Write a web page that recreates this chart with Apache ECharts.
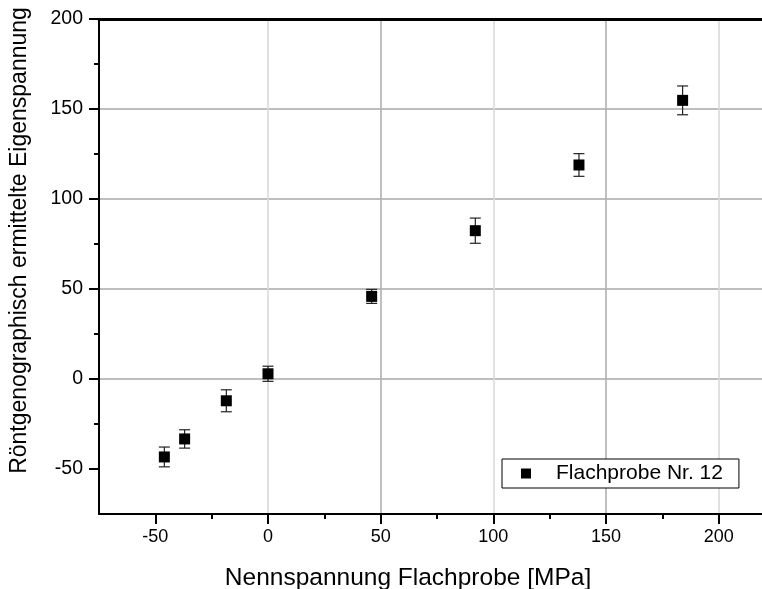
<!DOCTYPE html>
<html>
<head>
<meta charset="utf-8">
<script src="https://cdn.jsdelivr.net/npm/echarts@6/dist/echarts.min.js"></script>
<style>html,body{margin:0;padding:0;background:#fff;}#c{width:762px;height:589px;}</style>
</head>
<body>
<div id="c"></div>
<script>
// Data
var xValues = [-46, -37, -18.5, 0, 46, 92, 138, 184];
var yValues = [-43.3, -33.3, -12.1, 2.9, 45.9, 82.4, 118.9, 154.8];
var yErrors = [5.5, 5.1, 6.1, 4.2, 3.9, 7.0, 6.3, 8.0];
var seriesName = 'Flachprobe Nr. 12';
var xTitle = 'Nennspannung Flachprobe [MPa]';
var yTitle = 'Röntgenographisch ermittelte Eigenspannung';
var xMajorTicks = [-50, 0, 50, 100, 150, 200];
var xMinorTicks = [-25, 25, 75, 125, 175];
var yMajorTicks = [-50, 0, 50, 100, 150, 200];
var yMinorTicks = [-25, 25, 75, 125, 175];

var font = '"Liberation Sans", Arial, sans-serif';
var points = xValues.map(function (x, i) { return [x, yValues[i]]; });
var errData = xValues.map(function (x, i) { return [x, yValues[i] - yErrors[i], yValues[i] + yErrors[i]]; });

function gridBox() {
  return { left: 99, top: 19, width: 676, height: 495, containLabel: false, outerBoundsMode: 'none' };
}

var chart = echarts.init(document.getElementById('c'));
chart.setOption({
  animation: false,
  backgroundColor: '#fff',
  textStyle: { fontFamily: font },
  grid: [gridBox(), gridBox()],
  legend: {
    left: 502, top: 459,
    orient: 'vertical',
    padding: [4, 16, 4, 5],
    backgroundColor: '#fff',
    borderColor: '#000',
    borderWidth: 1,
    borderRadius: 0,
    itemWidth: 44, itemHeight: 10,
    icon: 'path://M0,0M44,10M14,0H24V10H14Z',
    data: [seriesName],
    textStyle: { fontFamily: font, fontSize: 21, lineHeight: 20, color: '#000' }
  },
  xAxis: [
    {
      type: 'value', gridIndex: 0, position: 'bottom',
      min: -75, max: 225, interval: 25,
      name: xTitle, nameLocation: 'middle', nameGap: 52,
      nameTextStyle: { fontFamily: font, fontSize: 24.5, color: '#000', padding: [0, 58, 0, 0] },
      axisLine: { show: true, onZero: false, lineStyle: { color: '#000', width: 2 } },
      axisTick: { show: true, customValues: xMajorTicks, length: 10, lineStyle: { color: '#000', width: 2 } },
      axisLabel: { customValues: xMajorTicks, fontFamily: font, fontSize: 18, color: '#000', margin: 14 },
      splitLine: { show: true, showMinLine: false, lineStyle: { color: ['#dadada', '#b0b0b0'], width: 1.6 } }
    },
    {
      type: 'value', gridIndex: 0, position: 'top',
      min: -75, max: 225, interval: 25,
      axisLine: { show: true, onZero: false, lineStyle: { color: '#000', width: 3 } },
      axisTick: { show: false }, axisLabel: { show: false }, splitLine: { show: false }
    },
    {
      type: 'value', gridIndex: 1, position: 'bottom',
      min: -75, max: 225, interval: 25,
      axisLine: { show: false, onZero: false },
      axisTick: { show: true, customValues: xMinorTicks, length: 5, lineStyle: { color: '#000', width: 2 } },
      axisLabel: { show: false }, splitLine: { show: false }
    }
  ],
  yAxis: [
    {
      type: 'value', gridIndex: 0, position: 'left',
      min: -75, max: 200, interval: 25,
      name: yTitle, nameLocation: 'middle', nameGap: 68, nameRotate: 90,
      nameTextStyle: { fontFamily: font, fontSize: 23, color: '#000', padding: [0, 0, 0, 52] },
      axisLine: { show: true, onZero: false, lineStyle: { color: '#000', width: 2 } },
      axisTick: { show: true, customValues: yMajorTicks, length: 10, lineStyle: { color: '#000', width: 2 } },
      axisLabel: { customValues: yMajorTicks, fontFamily: font, fontSize: 19.5, color: '#000', margin: 16 },
      splitLine: { show: true, showMinLine: false, showMaxLine: false, lineStyle: { color: '#a8a8a8', width: 1.5 } }
    },
    {
      type: 'value', gridIndex: 1, position: 'left',
      min: -75, max: 200, interval: 25,
      axisLine: { show: false, onZero: false },
      axisTick: { show: true, customValues: yMinorTicks, length: 5, lineStyle: { color: '#000', width: 2 } },
      axisLabel: { show: false }, splitLine: { show: false }
    }
  ],
  series: [
    {
      type: 'custom', name: 'err', xAxisIndex: 0, yAxisIndex: 0,
      data: errData, z: 3, silent: true,
      renderItem: function (params, api) {
        var lo = api.coord([api.value(0), api.value(1)]);
        var hi = api.coord([api.value(0), api.value(2)]);
        var hw = 5.5;
        var st = { stroke: '#222', lineWidth: 1.2 };
        return {
          type: 'group',
          children: [
            { type: 'line', shape: { x1: lo[0], y1: lo[1], x2: hi[0], y2: hi[1] }, style: st },
            { type: 'line', shape: { x1: lo[0] - hw, y1: lo[1], x2: lo[0] + hw, y2: lo[1] }, style: st },
            { type: 'line', shape: { x1: hi[0] - hw, y1: hi[1], x2: hi[0] + hw, y2: hi[1] }, style: st }
          ]
        };
      }
    },
    {
      type: 'scatter', name: seriesName, xAxisIndex: 0, yAxisIndex: 0,
      data: points, symbol: 'rect', symbolSize: 11, z: 4,
      itemStyle: { color: '#000', opacity: 1 }
    }
  ]
});
</script>
</body>
</html>
